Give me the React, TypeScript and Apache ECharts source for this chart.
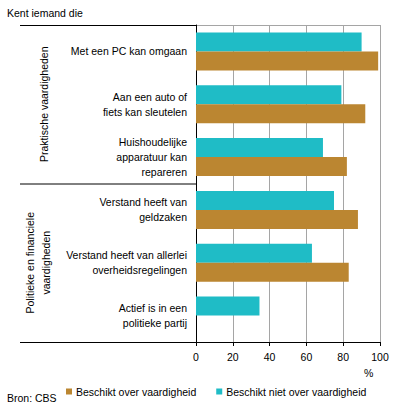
import React, { useEffect, useRef } from 'react';
import * as echarts from 'echarts';

const categories = [
  'Met een PC kan omgaan',
  'Aan een auto of\nfiets kan sleutelen',
  'Huishoudelijke\napparatuur kan\nrepareren',
  'Verstand heeft van\ngeldzaken',
  'Verstand heeft van allerlei\noverheidsregelingen',
  'Actief is in een\npolitieke partij',
];
const beschiktOver: (number | null)[] = [99, 92, 82, 88, 83, null];
const beschiktNiet: number[] = [90, 79, 69, 75, 63, 34.5];
const seriesNames = ['Beschikt over vaardigheid', 'Beschikt niet over vaardigheid'];
const groupLabels = ['Praktische vaardigheden', 'Politieke en financiele\nvaardigheden'];
const xMin = 0;
const xMax = 100;
const xInterval = 20;

const FONT = '"Liberation Sans", Arial, sans-serif';
const FS = 10.5;
const TEAL = '#1fbcc6';
const BROWN = '#bb8631';
const GRID = '#a5a5a5';

export default function App() {
  const ref = useRef<HTMLDivElement>(null);
  useEffect(() => {
    if (!ref.current) return;
    const chart = echarts.init(ref.current, undefined, { renderer: 'svg' });
    const L = 196, R = 380, T = 25, B = 342;
    const sep = T + (B - T) / 2;
    chart.setOption({
      animation: false,
      textStyle: { fontFamily: FONT },
      grid: { left: L, right: 396 - R, top: T, bottom: 409 - B },
      legend: {
        data: [seriesNames[0], seriesNames[1]],
        left: 61,
        top: 381,
        icon: 'rect',
        itemWidth: 6,
        itemHeight: 6,
        itemGap: 20,
        textStyle: { fontSize: FS, color: '#000', fontFamily: FONT, padding: [0, 0, 0, -1] },
      },
      xAxis: {
        type: 'value',
        min: xMin,
        max: xMax,
        interval: xInterval,
        axisLine: { show: true, lineStyle: { color: '#000', width: 1 } },
        axisTick: { show: true, length: 4, lineStyle: { color: '#000' } },
        axisLabel: { fontSize: FS, color: '#000', margin: 9, fontFamily: FONT },
        splitLine: { show: true, lineStyle: { color: GRID, width: 1 } },
      },
      yAxis: {
        type: 'category',
        data: categories,
        inverse: true,
        axisLine: { show: true, lineStyle: { color: '#000', width: 1 } },
        axisTick: { show: false },
        axisLabel: { fontSize: FS, color: '#000', margin: 9, lineHeight: 15, align: 'right', fontFamily: FONT },
        splitLine: { show: false },
      },
      series: [
        {
          name: seriesNames[1],
          type: 'bar',
          data: beschiktNiet,
          barWidth: 19,
          barGap: '0%',
          itemStyle: { color: TEAL },
        },
        {
          name: seriesNames[0],
          type: 'bar',
          data: beschiktOver,
          barWidth: 19,
          barGap: '0%',
          itemStyle: { color: BROWN },
        },
      ],
      graphic: [
        { type: 'line', shape: { x1: 20, y1: T + 0.5, x2: L, y2: T + 0.5 }, style: { stroke: '#000', lineWidth: 1 } },
        { type: 'line', shape: { x1: L, y1: T + 0.5, x2: R, y2: T + 0.5 }, style: { stroke: GRID, lineWidth: 1 } },
        { type: 'line', shape: { x1: 20, y1: sep + 0.5, x2: L, y2: sep + 0.5 }, style: { stroke: '#000', lineWidth: 1 } },
        { type: 'line', shape: { x1: 20, y1: B + 0.5, x2: L, y2: B + 0.5 }, style: { stroke: '#000', lineWidth: 1 } },
        {
          type: 'text', x: 44, y: (T + sep) / 2, rotation: Math.PI / 2,
          style: { text: groupLabels[0], fontSize: FS, fill: '#000', align: 'center', verticalAlign: 'middle', fontFamily: FONT },
        },
        {
          type: 'text', x: 38, y: (sep + B) / 2, rotation: Math.PI / 2,
          style: { text: groupLabels[1], fontSize: FS, lineHeight: 16, fill: '#000', align: 'center', verticalAlign: 'middle', fontFamily: FONT },
        },
        { type: 'text', x: 7, y: 7, style: { text: 'Kent iemand die', fontSize: FS, fill: '#000', fontFamily: FONT } },
        { type: 'text', x: 364, y: 367, style: { text: '%', fontSize: FS, fill: '#000', fontFamily: FONT } },
        { type: 'text', x: 7, y: 392, style: { text: 'Bron: CBS', fontSize: FS, fill: '#000', fontFamily: FONT } },
      ],
    });
    return () => chart.dispose();
  }, []);
  return <div ref={ref} style={{ width: 396, height: 409, position: 'absolute', left: 0, top: 0 }} />;
}
